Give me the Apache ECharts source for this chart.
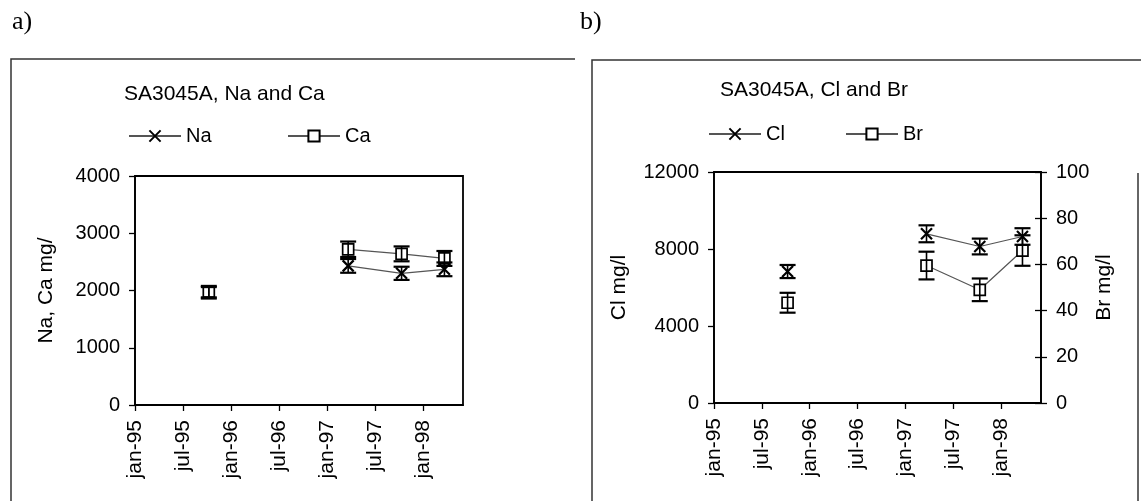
<!DOCTYPE html>
<html><head><meta charset="utf-8">
<script src="https://cdn.jsdelivr.net/npm/echarts@6/dist/echarts.min.js"></script>
<style>html,body{margin:0;padding:0;background:#fff}#c{width:1141px;height:501px}</style>
</head><body><div id="c"></div>
<script>
// ---- data ----
const sampleDates = ['1995-10-08', '1997-03-21', '1997-10-11', '1998-03-22'];
const naValues = [1960, 2430, 2300, 2370];
const caValues = [1980, 2720, 2640, 2560];
const naErrors = [100, 120, 115, 120];
const caErrors = [100, 135, 130, 130];
const clValues = [6830, 8790, 8130, 8650];
const brValues = [43.4, 59.5, 49, 66];
const clErrors = [340, 440, 410, 430];
const brErrors = [4.3, 6.0, 4.9, 6.6];
const xTickMonths = [0, 6, 12, 18, 24, 30, 36];
const xTickLabels = ['jan-95', 'jul-95', 'jan-96', 'jul-96', 'jan-97', 'jul-97', 'jan-98'];
const gapAfterIndex = 0; // no line between first sample and the rest

// ---- helpers ----
function toMonths(s) {
  const [y, m, d] = s.split('-').map(Number);
  const dim = new Date(y, m, 0).getDate();
  return (y - 1995) * 12 + (m - 1) + (d - 1) / dim;
}
const xs = sampleDates.map(toMonths);
const FONT = 'Liberation Sans, Arial, sans-serif';
const CROSS = 'path://M0,0L10,10M0,10L10,0';

function lineData(vals) {
  const out = [];
  vals.forEach((v, i) => {
    out.push([xs[i], v]);
    if (i === gapAfterIndex) out.push([xs[i], '-']);
  });
  return out;
}
function lineSeries(name, vals, sym, xi, yi) {
  return {
    type: 'line', name, xAxisIndex: xi, yAxisIndex: yi, data: lineData(vals),
    connectNulls: false, symbol: sym, symbolSize: 11,
    showSymbol: true, showAllSymbol: true, z: 3,
    lineStyle: { color: '#555', width: 1.2 },
    itemStyle: sym === 'rect'
      ? { color: '#fff', borderColor: '#000', borderWidth: 1.7 }
      : { color: '#000', borderColor: '#000', borderWidth: 2.2 },
    emphasis: { disabled: true }, animation: false
  };
}
function errSeries(name, vals, errs, xi, yi) {
  return {
    type: 'custom', name: name + ' err', xAxisIndex: xi, yAxisIndex: yi, z: 5, silent: true,
    data: xs.map((x, i) => [x, vals[i] - errs[i], vals[i] + errs[i]]),
    encode: { x: 0, y: [1, 2] },
    renderItem(params, api) {
      const lo = api.coord([api.value(0), api.value(1)]);
      const hi = api.coord([api.value(0), api.value(2)]);
      const w = 8;
      return { type: 'group', children: [
        { type: 'line', shape: { x1: lo[0], y1: lo[1], x2: hi[0], y2: hi[1] }, style: { stroke: '#000', lineWidth: 1.6 } },
        { type: 'line', shape: { x1: lo[0] - w, y1: lo[1], x2: lo[0] + w, y2: lo[1] }, style: { stroke: '#000', lineWidth: 2.2 } },
        { type: 'line', shape: { x1: hi[0] - w, y1: hi[1], x2: hi[0] + w, y2: hi[1] }, style: { stroke: '#000', lineWidth: 2.2 } }
      ]};
    },
    animation: false
  };
}
function xAxisCfg(gi) {
  return {
    type: 'value', gridIndex: gi, min: 0, max: 41, interval: 6,
    axisLine: { show: true, onZero: false, lineStyle: { color: '#000', width: 1.6 } },
    axisTick: { show: true, length: 6, customValues: xTickMonths, lineStyle: { color: '#000', width: 1.3 } },
    axisLabel: {
      customValues: xTickMonths, rotate: 90, margin: 15, color: '#000', fontSize: 21, fontFamily: FONT,
      formatter: v => { const i = xTickMonths.indexOf(Math.round(v)); return i >= 0 ? xTickLabels[i] : ''; }
    },
    splitLine: { show: false }
  };
}
function yAxisCfg(gi, min, max, interval, name, gap, pos) {
  return {
    type: 'value', gridIndex: gi, min, max, interval, position: pos || 'left',
    name, nameLocation: 'middle', nameGap: gap,
    nameTextStyle: { color: '#000', fontSize: 21, fontFamily: FONT },
    axisLine: { show: true, lineStyle: { color: '#000', width: 1.6 } },
    axisTick: { show: true, length: 6, lineStyle: { color: '#000', width: 1.3 } },
    axisLabel: { margin: 15, color: '#000', fontSize: 20, fontFamily: FONT, formatter: v => String(v) },
    splitLine: { show: false }
  };
}
function legendCfg(name, left, top) {
  return {
    data: [name], left, top, padding: 0, itemWidth: 52, itemHeight: 14, itemGap: 0, textGap: 6,
    selectedMode: false, textStyle: { color: '#000', fontSize: 20, fontFamily: FONT }
  };
}

const chart = echarts.init(document.getElementById('c'), null, { renderer: 'canvas' });
chart.setOption({
  backgroundColor: '#fff',
  animation: false,
  title: [
    { text: 'a)', left: 7, top: 4, textStyle: { fontFamily: 'Liberation Serif, Times New Roman, serif', fontSize: 26, fontWeight: 'normal', color: '#000' } },
    { text: 'b)', left: 575, top: 4, textStyle: { fontFamily: 'Liberation Serif, Times New Roman, serif', fontSize: 26, fontWeight: 'normal', color: '#000' } },
    { text: 'SA3045A, Na and Ca', left: 119, top: 79, textStyle: { fontFamily: FONT, fontSize: 21, fontWeight: 'normal', color: '#000' } },
    { text: 'SA3045A, Cl and Br', left: 715, top: 75, textStyle: { fontFamily: FONT, fontSize: 21, fontWeight: 'normal', color: '#000' } }
  ],
  legend: [
    legendCfg('Na', 128, 126),
    legendCfg('Ca', 287, 126),
    legendCfg('Cl', 708, 124),
    legendCfg('Br', 845, 124)
  ],
  grid: [
    { left: 135, top: 176, width: 328, height: 229, show: true, borderColor: '#000', borderWidth: 1.8, backgroundColor: 'transparent' },
    { left: 714, top: 172, width: 327, height: 231, show: true, borderColor: '#000', borderWidth: 1.8, backgroundColor: 'transparent' }
  ],
  xAxis: [xAxisCfg(0), xAxisCfg(1)],
  yAxis: [
    yAxisCfg(0, 0, 4000, 1000, 'Na, Ca mg/', 78),
    yAxisCfg(1, 0, 12000, 4000, 'Cl mg/l', 84),
    yAxisCfg(1, 0, 100, 20, 'Br mg/l', 52, 'right'),
    Object.assign(yAxisCfg(1, 0, 100, 20, '', 0, 'right'), {
      axisLine: { show: false }, axisLabel: { show: false },
      axisTick: { show: true, inside: true, length: 6, lineStyle: { color: '#000', width: 1.3 } }
    })
  ],
  graphic: [
    { type: 'polyline', silent: true, shape: { points: [[11, 501], [11, 59], [575, 59]] }, style: { stroke: '#333', lineWidth: 1.5, fill: null } },
    { type: 'polyline', silent: true, shape: { points: [[592, 501], [592, 60], [1141, 60]] }, style: { stroke: '#333', lineWidth: 1.5, fill: null } },
    { type: 'line', silent: true, shape: { x1: 1138, y1: 173, x2: 1138, y2: 501 }, style: { stroke: '#333', lineWidth: 1.5 } }
  ],
  series: [
    lineSeries('Na', naValues, CROSS, 0, 0),
    lineSeries('Ca', caValues, 'rect', 0, 0),
    errSeries('Na', naValues, naErrors, 0, 0),
    errSeries('Ca', caValues, caErrors, 0, 0),
    lineSeries('Cl', clValues, CROSS, 1, 1),
    lineSeries('Br', brValues, 'rect', 1, 2),
    errSeries('Cl', clValues, clErrors, 1, 1),
    errSeries('Br', brValues, brErrors, 1, 2)
  ]
});
</script>
</body></html>
